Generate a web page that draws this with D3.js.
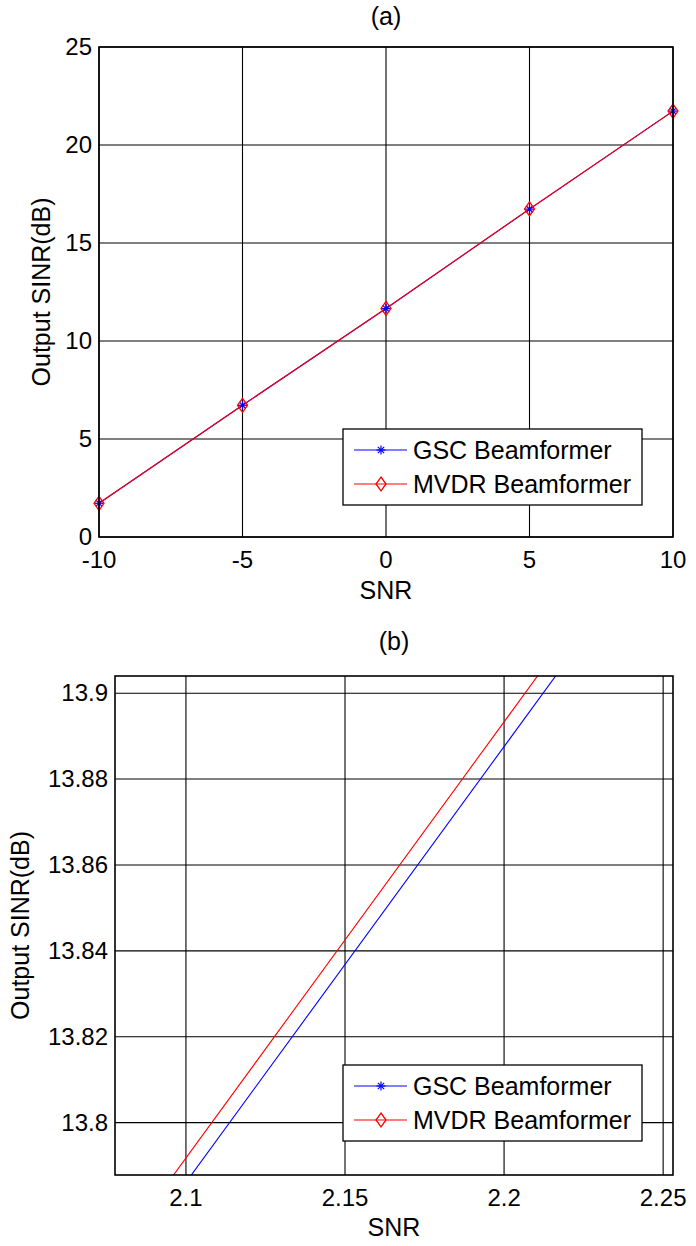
<!DOCTYPE html>
<html>
<head>
<meta charset="utf-8">
<script src="https://cdn.jsdelivr.net/npm/d3@7"></script>
<style>
  body { margin: 0; background: #fff; }
  svg { display: block; }
</style>
</head>
<body>
<div id="fig"></div>
<script>
// data
const snr = [-10, -5, 0, 5, 10];
const gscSinr = [1.72, 6.72, 11.655, 16.729, 21.73];
const mvdrSinr = [1.72, 6.72, 11.659, 16.737, 21.73];

const seriesNames = ["GSC Beamformer", "MVDR Beamformer"];

const topXTicks = [-10, -5, 0, 5, 10];
const topYTicks = [0, 5, 10, 15, 20, 25];
const zoomXTicks = [2.1, 2.15, 2.2, 2.25];
const zoomYTicks = [13.8, 13.82, 13.84, 13.86, 13.88, 13.9];

const FONT = "'Liberation Sans', Arial, sans-serif";
const width = 696, height = 1246;

const svg = d3
  .select("#fig")
  .append("svg")
  .attr("width", width)
  .attr("height", height)
  .attr("id", "fig_svg");

const series = [
  { name: seriesNames[0], values: gscSinr, color: "#0000ff", marker: "star" },
  { name: seriesNames[1], values: mvdrSinr, color: "#ff0000", marker: "diamond" },
];

function draw_marker(g, type, x, y, color) {
  if (type === "star") {
    const r = 4.5;
    const lines = [
      [0, -r, 0, r],
      [-r, 0, r, 0],
      [-r * 0.7, -r * 0.7, r * 0.7, r * 0.7],
      [-r * 0.7, r * 0.7, r * 0.7, -r * 0.7],
    ];
    lines.forEach((l) => {
      g.append("line")
        .attr("x1", x + l[0]).attr("y1", y + l[1])
        .attr("x2", x + l[2]).attr("y2", y + l[3])
        .attr("stroke", color)
        .attr("stroke-width", 1.2);
    });
  } else {
    const w = 5, h = 7;
    g.append("path")
      .attr("d", `M${x},${y - h}L${x + w},${y}L${x},${y + h}L${x - w},${y}Z`)
      .attr("fill", "none")
      .attr("stroke", color)
      .attr("stroke-width", 1.3);
  }
}

function build_panel(opts) {
  const { id, left, right, top, bottom, xDomain, yDomain, xTicks, yTicks, title, showMarkers, xLabelY, yLabelX } = opts;

  const x = d3.scaleLinear().domain(xDomain).range([left, right]);
  const y = d3.scaleLinear().domain(yDomain).range([bottom, top]);
  const fmt = (d) => String(+d.toFixed(3));

  const g = svg.append("g").attr("id", id);

  g.append("clipPath")
    .attr("id", id + "_clip")
    .append("rect")
    .attr("x", left).attr("y", top)
    .attr("width", right - left).attr("height", bottom - top);

  // grid
  g.append("g")
    .selectAll("line")
    .data(xTicks)
    .join("line")
    .attr("x1", (d) => x(d)).attr("x2", (d) => x(d))
    .attr("y1", top).attr("y2", bottom)
    .attr("stroke", "#000")
    .attr("stroke-width", 1.1);
  g.append("g")
    .selectAll("line")
    .data(yTicks)
    .join("line")
    .attr("x1", left).attr("x2", right)
    .attr("y1", (d) => y(d)).attr("y2", (d) => y(d))
    .attr("stroke", "#000")
    .attr("stroke-width", 1.1);

  // curves
  const line = d3
    .line()
    .x((d, i) => x(snr[i]))
    .y((d) => y(d));

  const plot = g.append("g").attr("clip-path", `url(#${id}_clip)`);
  series.forEach((s) => {
    plot.append("path")
      .datum(s.values)
      .attr("d", line)
      .attr("fill", "none")
      .attr("stroke", s.color)
      .attr("stroke-width", 1.1);
  });
  if (showMarkers) {
    series.forEach((s) => {
      s.values.forEach((v, i) => draw_marker(g, s.marker, x(snr[i]), y(v), s.color));
    });
  }

  // box
  g.append("rect")
    .attr("x", left).attr("y", top)
    .attr("width", right - left).attr("height", bottom - top)
    .attr("fill", "none")
    .attr("stroke", "#000")
    .attr("stroke-width", 1.6);

  // tick labels
  g.append("g")
    .selectAll("text")
    .data(xTicks)
    .join("text")
    .attr("x", (d) => x(d))
    .attr("y", bottom + 31)
    .attr("text-anchor", "middle")
    .style("font-family", FONT)
    .style("font-size", "24px")
    .text(fmt);
  g.append("g")
    .selectAll("text")
    .data(yTicks)
    .join("text")
    .attr("x", left - 7)
    .attr("y", (d) => y(d) + 8)
    .attr("text-anchor", "end")
    .style("font-family", FONT)
    .style("font-size", "24px")
    .text(fmt);

  // axis labels and title
  g.append("text")
    .attr("x", (left + right) / 2)
    .attr("y", bottom + xLabelY)
    .attr("text-anchor", "middle")
    .style("font-family", FONT)
    .style("font-size", "25px")
    .text("SNR");
  g.append("text")
    .attr("transform", `translate(${yLabelX},${(top + bottom) / 2}) rotate(-90)`)
    .attr("text-anchor", "middle")
    .style("font-family", FONT)
    .style("font-size", "25px")
    .text("Output SINR(dB)");
  g.append("text")
    .attr("x", (left + right) / 2)
    .attr("y", top - opts.titleGap)
    .attr("text-anchor", "middle")
    .style("font-family", FONT)
    .style("font-size", "25px")
    .text(title);

  // legend
  const lx = 343, lw = 299, lh = 76;
  const ly = bottom - opts.legendBottomGap - lh;
  const leg = g.append("g");
  leg.append("rect")
    .attr("x", lx).attr("y", ly)
    .attr("width", lw).attr("height", lh)
    .attr("fill", "#fff")
    .attr("stroke", "#000")
    .attr("stroke-width", 1.3);
  series.forEach((s, i) => {
    const cy = ly + 21 + i * 34;
    leg.append("line")
      .attr("x1", lx + 11).attr("x2", lx + 64)
      .attr("y1", cy).attr("y2", cy)
      .attr("stroke", s.color)
      .attr("stroke-width", 1.1);
    draw_marker(leg, s.marker, lx + 38, cy, s.color);
    leg.append("text")
      .attr("x", lx + 70)
      .attr("y", cy + 8.5)
      .style("font-family", FONT)
      .style("font-size", "25px")
      .text(s.name);
  });
}

build_panel({
  id: "panel_a",
  left: 99, right: 673, top: 47, bottom: 537,
  xDomain: [-10, 10], yDomain: [0, 25],
  xTicks: topXTicks, yTicks: topYTicks,
  title: "(a)", titleGap: 22, showMarkers: true,
  xLabelY: 62, yLabelX: 50,
  legendBottomGap: 32,
});

build_panel({
  id: "panel_b",
  left: 115, right: 673, top: 676, bottom: 1175,
  xDomain: [2.0777, 2.2531], yDomain: [13.7878, 13.904],
  xTicks: zoomXTicks, yTicks: zoomYTicks,
  title: "(b)", titleGap: 26, showMarkers: false,
  xLabelY: 61, yLabelX: 29,
  legendBottomGap: 34,
});
</script>
</body>
</html>
